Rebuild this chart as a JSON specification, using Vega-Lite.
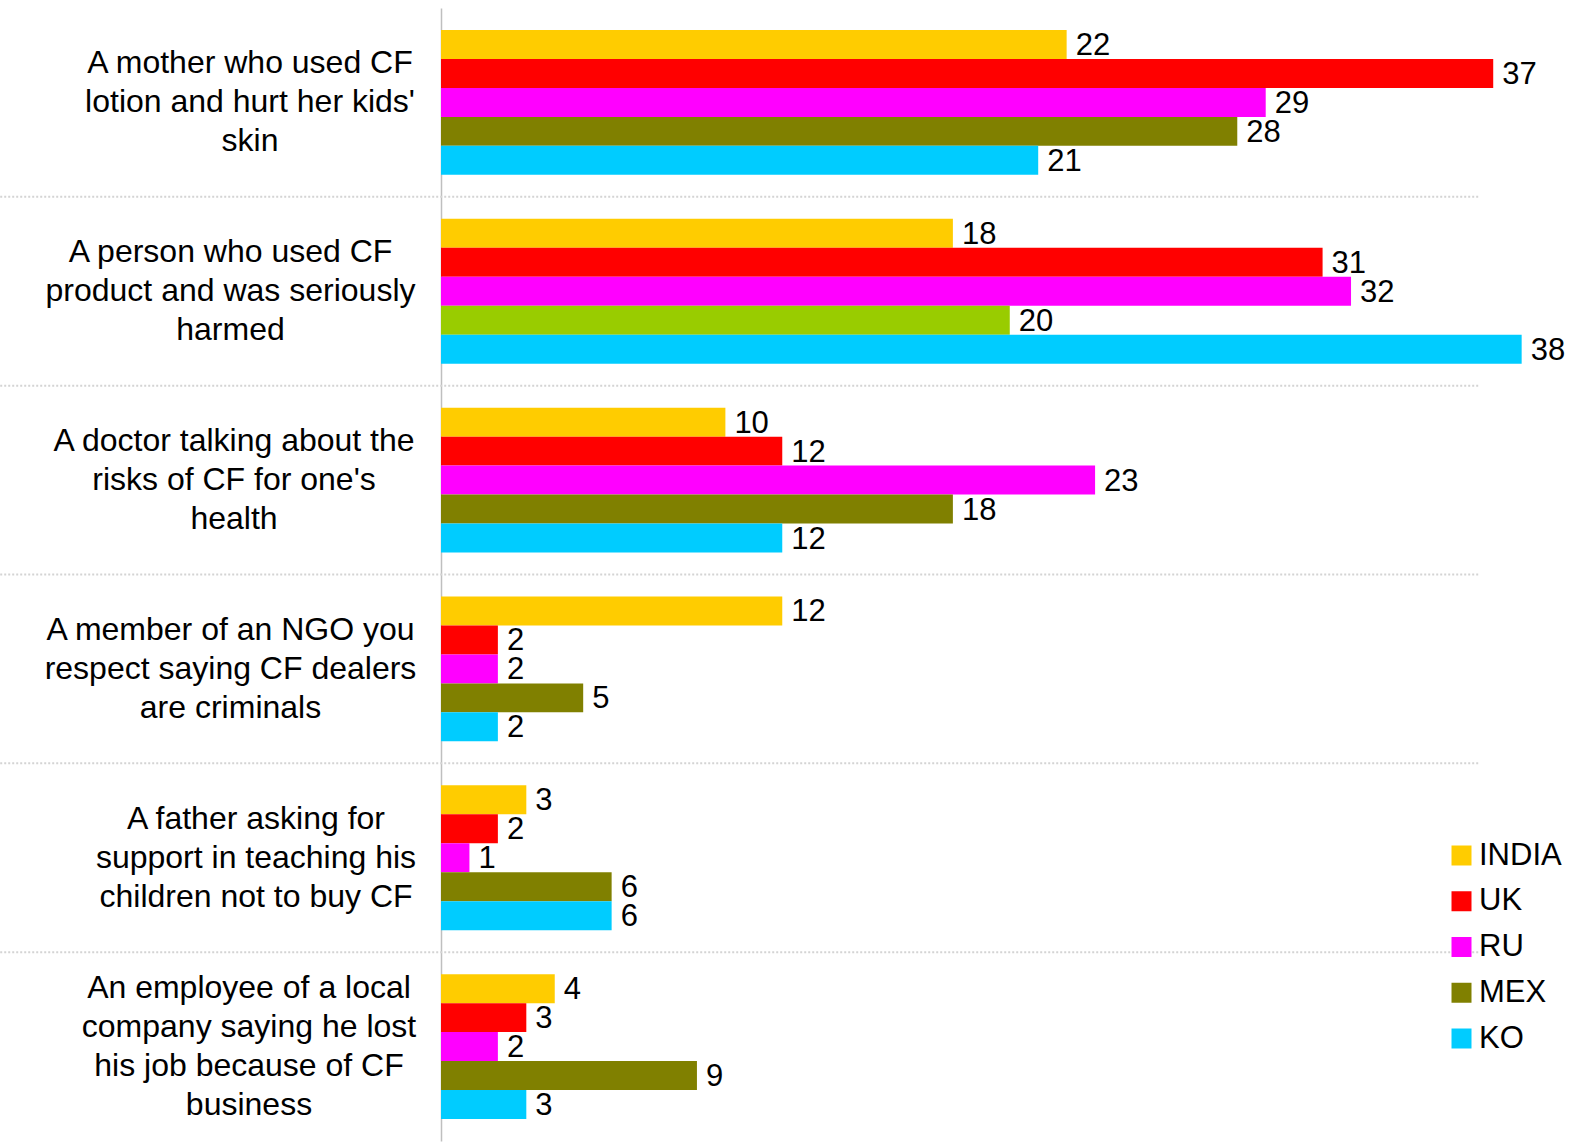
{
  "$schema": "https://vega.github.io/schema/vega-lite/v6.json",
  "width": 1038,
  "height": 1133,
  "autosize": {"type": "none"},
  "padding": {"left": 441, "top": 8, "right": 93, "bottom": 2},
  "config": {"view": {"stroke": null}, "font": "Liberation Sans"},
  "datasets": {
    "shares": [
      {"statement": "A mother who used CF\nlotion and hurt her kids'\nskin", "country": "INDIA", "share": 22},
      {"statement": "A mother who used CF\nlotion and hurt her kids'\nskin", "country": "UK", "share": 37},
      {"statement": "A mother who used CF\nlotion and hurt her kids'\nskin", "country": "RU", "share": 29},
      {"statement": "A mother who used CF\nlotion and hurt her kids'\nskin", "country": "MEX", "share": 28},
      {"statement": "A mother who used CF\nlotion and hurt her kids'\nskin", "country": "KO", "share": 21},
      {"statement": "A person who used CF\nproduct and was seriously\nharmed", "country": "INDIA", "share": 18},
      {"statement": "A person who used CF\nproduct and was seriously\nharmed", "country": "UK", "share": 31},
      {"statement": "A person who used CF\nproduct and was seriously\nharmed", "country": "RU", "share": 32},
      {"statement": "A person who used CF\nproduct and was seriously\nharmed", "country": "MEX", "share": 20},
      {"statement": "A person who used CF\nproduct and was seriously\nharmed", "country": "KO", "share": 38},
      {"statement": "A doctor talking about the\nrisks of CF for one's\nhealth", "country": "INDIA", "share": 10},
      {"statement": "A doctor talking about the\nrisks of CF for one's\nhealth", "country": "UK", "share": 12},
      {"statement": "A doctor talking about the\nrisks of CF for one's\nhealth", "country": "RU", "share": 23},
      {"statement": "A doctor talking about the\nrisks of CF for one's\nhealth", "country": "MEX", "share": 18},
      {"statement": "A doctor talking about the\nrisks of CF for one's\nhealth", "country": "KO", "share": 12},
      {"statement": "A member of an NGO you\nrespect saying CF dealers\nare criminals", "country": "INDIA", "share": 12},
      {"statement": "A member of an NGO you\nrespect saying CF dealers\nare criminals", "country": "UK", "share": 2},
      {"statement": "A member of an NGO you\nrespect saying CF dealers\nare criminals", "country": "RU", "share": 2},
      {"statement": "A member of an NGO you\nrespect saying CF dealers\nare criminals", "country": "MEX", "share": 5},
      {"statement": "A member of an NGO you\nrespect saying CF dealers\nare criminals", "country": "KO", "share": 2},
      {"statement": "A father asking for\nsupport in teaching his\nchildren not to buy CF", "country": "INDIA", "share": 3},
      {"statement": "A father asking for\nsupport in teaching his\nchildren not to buy CF", "country": "UK", "share": 2},
      {"statement": "A father asking for\nsupport in teaching his\nchildren not to buy CF", "country": "RU", "share": 1},
      {"statement": "A father asking for\nsupport in teaching his\nchildren not to buy CF", "country": "MEX", "share": 6},
      {"statement": "A father asking for\nsupport in teaching his\nchildren not to buy CF", "country": "KO", "share": 6},
      {"statement": "An employee of a local\ncompany saying he lost\nhis job because of CF\nbusiness", "country": "INDIA", "share": 4},
      {"statement": "An employee of a local\ncompany saying he lost\nhis job because of CF\nbusiness", "country": "UK", "share": 3},
      {"statement": "An employee of a local\ncompany saying he lost\nhis job because of CF\nbusiness", "country": "RU", "share": 2},
      {"statement": "An employee of a local\ncompany saying he lost\nhis job because of CF\nbusiness", "country": "MEX", "share": 9},
      {"statement": "An employee of a local\ncompany saying he lost\nhis job because of CF\nbusiness", "country": "KO", "share": 3}
    ]
  },
  "data": {"name": "shares"},
  "resolve": {"scale": {"y": "independent"}},
  "layer": [
    {
      "description": "Dotted separators between statements, running under the labels and across the bars",
      "transform": [
        {"filter": "datum.country === 'INDIA' && indexof(datum.statement, 'A mother') !== 0"}
      ],
      "mark": {"type": "rule", "color": "#d4d4d4", "strokeWidth": 2, "strokeDash": [2, 2]},
      "encoding": {
        "y": {
          "field": "statement",
          "type": "nominal",
          "bandPosition": 0,
          "scale": {
            "domain": [
              "A mother who used CF\nlotion and hurt her kids'\nskin",
              "A person who used CF\nproduct and was seriously\nharmed",
              "A doctor talking about the\nrisks of CF for one's\nhealth",
              "A member of an NGO you\nrespect saying CF dealers\nare criminals",
              "A father asking for\nsupport in teaching his\nchildren not to buy CF",
              "An employee of a local\ncompany saying he lost\nhis job because of CF\nbusiness"
            ],
            "paddingInner": 0,
            "paddingOuter": 0
          },
          "axis": null
        },
        "x": {"datum": -15.5, "type": "quantitative", "scale": {"domain": [0, 36.5], "nice": false, "zero": true}, "axis": null},
        "x2": {"datum": 36.5}
      }
    },
    {
      "encoding": {
        "y": {
          "field": "statement",
          "type": "nominal",
          "sort": null,
          "scale": {"paddingInner": 0.233, "paddingOuter": 0.1165},
          "axis": {
            "title": null,
            "domainColor": "#bfbfbf",
            "domainWidth": 1.5,
            "ticks": false,
            "tickSize": 0,
            "grid": false,
            "labelAlign": "center",
            "labelBaseline": "middle",
            "labelPadding": {
              "condition": [
                {"test": "indexof(datum.value, 'A mother') === 0", "value": 191.5},
                {"test": "indexof(datum.value, 'A doctor') === 0", "value": 207.5},
                {"test": "indexof(datum.value, 'A father') === 0", "value": 185.5},
                {"test": "indexof(datum.value, 'An employee') === 0", "value": 192.5}
              ],
              "value": 211
            },
            "labelOffset": {
              "condition": {"test": "indexof(datum.value, 'business') >= 0", "value": -58.5},
              "value": -39
            },
            "labelFontSize": 32,
            "labelLineHeight": 39,
            "labelLimit": 0,
            "labelColor": "#000000",
            "labelExpr": "split(datum.value, '\\n')"
          }
        },
        "yOffset": {
          "field": "country",
          "type": "nominal",
          "sort": ["INDIA", "UK", "RU", "MEX", "KO"],
          "scale": {"paddingInner": 0, "paddingOuter": 0}
        },
        "x": {
          "field": "share",
          "type": "quantitative",
          "scale": {"domain": [0, 36.5], "nice": false, "zero": true},
          "axis": null
        }
      },
      "layer": [
        {
          "mark": {"type": "bar"},
          "encoding": {
            "color": {
              "condition": {
                "test": "datum.country === 'MEX' && indexof(datum.statement, 'seriously') >= 0",
                "value": "#99CC00"
              },
              "field": "country",
              "type": "nominal",
              "sort": ["INDIA", "UK", "RU", "MEX", "KO"],
              "scale": {
                "domain": ["INDIA", "UK", "RU", "MEX", "KO"],
                "range": ["#FFCC00", "#FF0000", "#FF00FF", "#808000", "#00CCFF"]
              },
              "legend": {
                "title": null,
                "orient": "none",
                "legendX": 1005,
                "legendY": 832,
                "padding": 0,
                "symbolType": "square",
                "symbolSize": 400,
                "symbolStrokeWidth": 0,
                "labelFontSize": 31,
                "labelColor": "#000000",
                "labelOffset": 2,
                "rowPadding": 13.75
              }
            }
          }
        },
        {
          "mark": {
            "type": "text",
            "align": "left",
            "baseline": "middle",
            "dx": 9,
            "dy": 1.5,
            "fontSize": 31,
            "color": "#000000"
          },
          "encoding": {"text": {"field": "share", "type": "quantitative"}}
        }
      ]
    }
  ]
}
